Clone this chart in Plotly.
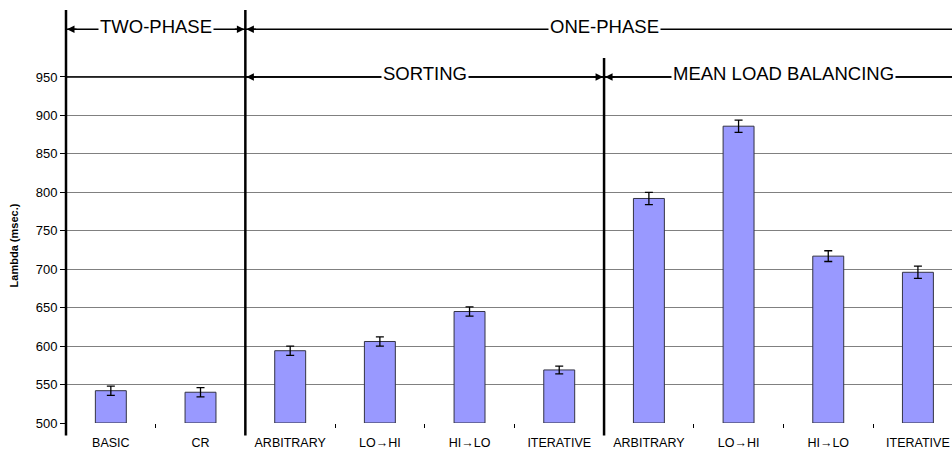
import plotly.graph_objects as go

# ---- data ----
labels = ["BASIC", "CR", "ARBITRARY", "LO→HI", "HI→LO", "ITERATIVE",
          "ARBITRARY", "LO→HI", "HI→LO", "ITERATIVE"]
values = [542, 540, 594, 606, 645, 569, 792, 886, 717, 696]
errors = [6, 6, 6, 6, 6, 5, 8, 8, 7, 8]
ytick_vals = [500, 550, 600, 650, 700, 750, 800, 850, 900, 950]
groups_top = [("TWO-PHASE", -0.5, 1.5), ("ONE-PHASE", 1.5, 9.5)]
groups_mid = [("SORTING", 1.5, 5.5), ("MEAN LOAD BALANCING", 5.5, 9.5)]

FONT = "Liberation Sans, Arial, sans-serif"
x = list(range(len(labels)))
base = 500
Y_TOP = 1012
Y_MID = 950
X_MAX = 9.38

fig = go.Figure()
fig.add_trace(go.Bar(
    x=x, y=[v - base for v in values], base=base,
    width=0.345,
    marker=dict(color="#9999FF", line=dict(color="#333344", width=1)),
    error_y=dict(type="data", array=errors, color="black", thickness=1.3, width=4),
    showlegend=False,
))

shapes = []
annotations = []
# black line at 950 (top of gridded area)
shapes.append(dict(type="line", xref="x", yref="y", x0=-0.5, x1=X_MAX, y0=Y_MID, y1=Y_MID,
                   line=dict(color="black", width=1.5)))
# left axis thick line
shapes.append(dict(type="line", xref="paper", yref="paper", x0=0, x1=0, y0=-0.03, y1=1,
                   line=dict(color="black", width=2.5)))
# separators
shapes.append(dict(type="line", xref="x", yref="paper", x0=1.5, x1=1.5, y0=-0.03, y1=1,
                   line=dict(color="black", width=2.5)))
shapes.append(dict(type="line", xref="x", yref="paper", x0=5.5, x1=5.5, y0=-0.03, y1=0.884,
                   line=dict(color="black", width=2.5)))

def bracket(text, x0, x1, yv):
    xe = min(x1, X_MAX)
    shapes.append(dict(type="line", xref="x", yref="y", x0=x0, x1=xe, y0=yv, y1=yv,
                       line=dict(color="black", width=1.5)))
    annotations.append(dict(x=(x0 + x1) / 2, y=yv, xref="x", yref="y", text=text,
                            showarrow=False, bgcolor="white", borderpad=1, yshift=3,
                            font=dict(family=FONT, size=18.5, color="black")))
    annotations.append(dict(x=x0, y=yv, xref="x", yref="y", text="", showarrow=True,
                            ax=12, ay=0, arrowhead=2, arrowsize=1, arrowwidth=1.5,
                            arrowcolor="black", standoff=1))
    if x1 <= X_MAX:
        annotations.append(dict(x=x1, y=yv, xref="x", yref="y", text="", showarrow=True,
                                ax=-12, ay=0, arrowhead=2, arrowsize=1, arrowwidth=1.5,
                                arrowcolor="black", standoff=1))

for t, a, b in groups_top:
    bracket(t, a, b, Y_TOP)
for t, a, b in groups_mid:
    bracket(t, a, b, Y_MID)

annotations.append(dict(x=-0.0587, y=0.43, xref="paper", yref="paper",
                        text="<b>Lambda (msec.)</b>", textangle=-90, showarrow=False,
                        xanchor="center", yanchor="middle",
                        font=dict(family=FONT, size=11, color="black")))

fig.update_layout(
    width=952, height=451,
    margin=dict(l=66, r=0, t=10, b=28),
    plot_bgcolor="white", paper_bgcolor="white",
    font=dict(family=FONT, size=13, color="black"),
    shapes=shapes, annotations=annotations,
    xaxis=dict(range=[-0.5, X_MAX], tickvals=x, ticktext=labels, showgrid=False,
               ticks="", showline=False, zeroline=False,
               tickfont=dict(size=12.5), ticklabelstandoff=10,
               minor=dict(tickvals=[i + 0.5 for i in range(9)], ticks="outside",
                          ticklen=4, tickcolor="black", tickwidth=1, showgrid=False)),
    yaxis=dict(range=[500, 1037.1], tickvals=ytick_vals, showgrid=True,
               gridcolor="#808080", gridwidth=1, ticks="outside", ticklen=5,
               tickcolor="black", showline=False, zeroline=False,
               tickfont=dict(size=13)),
    bargap=0.6,
)

fig.write_html("out.html", config={"displayModeBar": False},
               post_script="document.body.style.margin='0';document.body.style.overflow='hidden';")
